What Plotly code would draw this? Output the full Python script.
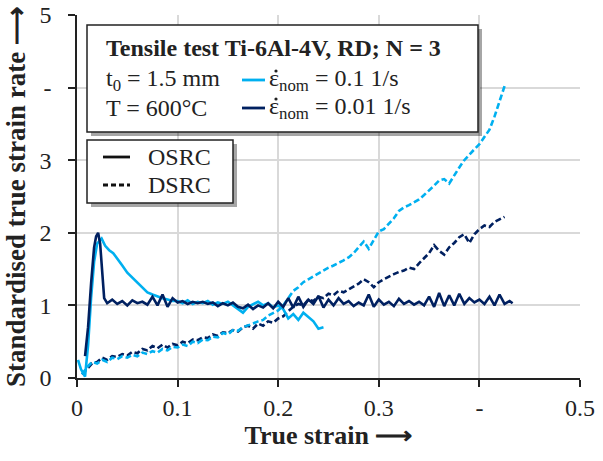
import plotly.graph_objects as go

LIGHT = "#00B0F0"
DARK = "#002060"
FONT = "Liberation Serif"
INK = "#222222"

# OSRC, 0.1 1/s (light blue, solid)
osrc_01_x = [0.001, 0.004, 0.008, 0.011, 0.014, 0.017, 0.020, 0.0245, 0.028, 0.032, 0.036, 0.040,
             0.045, 0.050, 0.055, 0.060, 0.065, 0.070, 0.075, 0.080, 0.085, 0.090, 0.095,
             0.100, 0.105, 0.110, 0.115, 0.120, 0.125, 0.130, 0.135, 0.140, 0.145, 0.150,
             0.155, 0.160, 0.165, 0.170, 0.175, 0.180, 0.185, 0.190, 0.195, 0.200, 0.205,
             0.210, 0.215, 0.220, 0.225, 0.230, 0.235, 0.240, 0.245]
osrc_01_y = [0.25, 0.12, 0.02, 0.45, 1.10, 1.60, 1.85, 1.92, 1.82, 1.76, 1.72, 1.65,
             1.55, 1.45, 1.38, 1.32, 1.25, 1.18, 1.15, 1.12, 1.10, 1.08, 1.06,
             1.06, 1.03, 1.07, 1.02, 1.05, 1.03, 1.06, 1.01, 1.04, 1.02, 1.05,
             1.00, 0.96, 0.90, 0.98, 1.02, 1.05, 1.00, 1.03, 0.97, 1.00, 0.95,
             0.82, 0.88, 0.80, 0.90, 0.84, 0.78, 0.68, 0.70]

# OSRC, 0.01 1/s (dark blue, solid)
osrc_001_x = [0.008, 0.011, 0.014, 0.017, 0.019, 0.021, 0.023, 0.025, 0.027,
              0.030, 0.035, 0.040, 0.045, 0.050, 0.055, 0.060, 0.065, 0.070, 0.075,
              0.080, 0.085, 0.090, 0.095, 0.100, 0.105, 0.110, 0.115, 0.120, 0.125,
              0.130, 0.135, 0.140, 0.145, 0.150, 0.155, 0.160, 0.165, 0.170, 0.175,
              0.180, 0.185, 0.190, 0.195, 0.200, 0.205, 0.210, 0.215, 0.220, 0.225,
              0.230, 0.235, 0.240, 0.245, 0.250, 0.255, 0.260, 0.265, 0.270, 0.275,
              0.280, 0.285, 0.290, 0.295, 0.300, 0.305, 0.310, 0.315, 0.320, 0.325,
              0.330, 0.335, 0.340, 0.345, 0.350, 0.355, 0.360, 0.365, 0.370, 0.375,
              0.380, 0.385, 0.390, 0.395, 0.400, 0.405, 0.410, 0.415, 0.420, 0.425,
              0.430, 0.433]
osrc_001_y = [0.30, 0.70, 1.30, 1.80, 1.95, 2.00, 1.85, 1.40, 1.10,
              1.03, 1.08, 1.02, 1.06, 1.00, 1.07, 1.03, 1.05, 1.01, 1.12,
              1.00, 1.15, 0.98, 1.10, 1.04, 1.06, 1.02, 1.05, 1.03, 1.05,
              1.02, 1.04, 0.99, 1.03, 1.00, 1.04, 0.98, 0.96, 1.01, 0.95,
              1.00, 0.97, 1.03, 0.96, 1.05, 0.98, 1.10, 0.97, 1.12, 0.98,
              1.08, 1.02, 1.13, 0.97, 1.08, 1.00, 1.10, 1.02, 1.06, 0.99,
              1.04, 1.00, 1.15, 0.98, 1.08, 1.01, 1.05, 0.99, 1.09, 1.02,
              1.06, 1.01, 1.05, 1.00, 1.12, 0.98, 1.17, 0.99, 1.14, 1.00,
              1.16, 1.02, 1.10, 1.04, 1.08, 1.02, 1.12, 1.00, 1.15, 1.02,
              1.06, 1.03]

# DSRC, 0.1 1/s (light blue, dashed)
dsrc_01_x = [0.005, 0.010, 0.015, 0.020, 0.025, 0.030, 0.035, 0.040, 0.045, 0.050,
             0.055, 0.060, 0.065, 0.070, 0.075, 0.080, 0.085, 0.090, 0.095, 0.100,
             0.105, 0.110, 0.115, 0.120, 0.125, 0.130, 0.135, 0.140, 0.145, 0.150,
             0.155, 0.160, 0.165, 0.170, 0.175, 0.180, 0.185, 0.190, 0.195, 0.200,
             0.205, 0.210, 0.215, 0.220, 0.225, 0.230, 0.235, 0.240, 0.245, 0.250,
             0.255, 0.260, 0.265, 0.270, 0.275, 0.280, 0.285, 0.290, 0.295, 0.300,
             0.305, 0.310, 0.315, 0.320, 0.325, 0.330, 0.335, 0.340, 0.345, 0.350,
             0.355, 0.360, 0.365, 0.370, 0.375, 0.380, 0.385, 0.390, 0.395, 0.400,
             0.405, 0.410, 0.415, 0.420, 0.425]
dsrc_01_y = [0.05, 0.15, 0.22, 0.20, 0.25, 0.22, 0.28, 0.26, 0.30, 0.28,
             0.32, 0.30, 0.35, 0.33, 0.37, 0.35, 0.40, 0.38, 0.43, 0.42,
             0.46, 0.44, 0.50, 0.48, 0.53, 0.52, 0.57, 0.56, 0.62, 0.60,
             0.66, 0.65, 0.70, 0.72, 0.75, 0.78, 0.80, 0.86, 0.90, 0.93,
             1.00, 1.10, 1.20, 1.25, 1.32, 1.36, 1.40, 1.45, 1.48, 1.52,
             1.55, 1.58, 1.62, 1.66, 1.72, 1.80, 1.88, 1.78, 1.90, 2.02,
             2.05, 2.12, 2.20, 2.30, 2.35, 2.38, 2.42, 2.46, 2.52, 2.58,
             2.65, 2.72, 2.74, 2.68, 2.80, 2.90, 3.00, 3.08, 3.15, 3.22,
             3.32, 3.42, 3.60, 3.80, 4.02]

# DSRC, 0.01 1/s (dark blue, dashed)
dsrc_001_x = dsrc_01_x
dsrc_001_y = [0.05, 0.12, 0.20, 0.22, 0.28, 0.25, 0.30, 0.29, 0.33, 0.31,
              0.36, 0.34, 0.40, 0.38, 0.44, 0.41, 0.46, 0.42, 0.47, 0.45,
              0.50, 0.48, 0.53, 0.52, 0.56, 0.55, 0.60, 0.58, 0.63, 0.62,
              0.66, 0.64, 0.70, 0.72, 0.68, 0.75, 0.72, 0.78, 0.76, 0.82,
              0.85, 0.92, 0.98, 1.02, 1.00, 1.08, 1.06, 1.12, 1.10, 1.16,
              1.14, 1.20, 1.18, 1.22, 1.26, 1.30, 1.36, 1.32, 1.25, 1.32,
              1.36, 1.40, 1.43, 1.46, 1.48, 1.52, 1.50, 1.58, 1.65, 1.72,
              1.83, 1.75, 1.70, 1.80, 1.86, 1.94, 1.98, 1.86, 1.98, 2.05,
              2.10, 2.08, 2.15, 2.18, 2.22]

x_tickvals = [0, 0.1, 0.2, 0.3, 0.4, 0.5]
x_ticktext = ["0", "0.1", "0.2", "0.3", "-", "0.5"]
y_tickvals = [0, 1, 2, 3, 4, 5]
y_ticktext = ["0", "1", "2", "3", "-", "5"]

fig = go.Figure()
W = 2.6
fig.add_trace(go.Scatter(x=dsrc_001_x, y=dsrc_001_y, mode="lines",
                         line=dict(color=DARK, width=W, dash="6px,3px")))
fig.add_trace(go.Scatter(x=dsrc_01_x, y=dsrc_01_y, mode="lines",
                         line=dict(color=LIGHT, width=W, dash="6px,3px")))
fig.add_trace(go.Scatter(x=osrc_01_x, y=osrc_01_y, mode="lines",
                         line=dict(color=LIGHT, width=W)))
fig.add_trace(go.Scatter(x=osrc_001_x, y=osrc_001_y, mode="lines",
                         line=dict(color=DARK, width=W)))

# pixel -> data helpers (plot area: x 77..580, y 15..378)
L, R, T, B = 77, 580, 15, 378
def dx(px):
    return (px - L) / (R - L) * 0.5
def dy(py):
    return (B - py) / (B - T) * 5.0

shapes = []
def box(x0, y0, x1, y1):
    shapes.append(dict(type="rect", xref="x", yref="y", x0=dx(x0 + 4), x1=dx(x1 + 4),
                       y0=dy(y1 + 4), y1=dy(y0 + 4), fillcolor="rgba(0,0,0,0.35)",
                       line=dict(width=0), layer="above"))
    shapes.append(dict(type="rect", xref="x", yref="y", x0=dx(x0), x1=dx(x1),
                       y0=dy(y1), y1=dy(y0), fillcolor="white",
                       line=dict(color=INK, width=1.5), layer="above"))

box(87, 25, 478, 132)
box(87, 140, 233, 203)

def seg(x0, x1, py, color, dash="solid"):
    shapes.append(dict(type="line", xref="x", yref="y", x0=dx(x0), x1=dx(x1),
                       y0=dy(py), y1=dy(py), line=dict(color=color, width=2.8, dash=dash),
                       layer="above"))

def dot(px, py, r=1.6):
    shapes.append(dict(type="circle", xref="x", yref="y", x0=dx(px - r), x1=dx(px + r),
                       y0=dy(py + r), y1=dy(py - r), fillcolor=INK,
                       line=dict(width=0), layer="above"))

seg(242, 265, 80, LIGHT)
seg(242, 265, 108, DARK)
seg(103, 130, 157, "#111111")
seg(103, 130, 185, "#111111", "5px,3px")
dot(276, 71)
dot(276, 99)

annots = []
def txt(px, py, s, size=24):
    annots.append(dict(x=dx(px), y=dy(py), xref="x", yref="y", text=s, showarrow=False,
                       xanchor="left", yanchor="middle",
                       font=dict(family=FONT, size=size, color=INK)))

txt(104, 48, "<b>Tensile test Ti-6Al-4V, RD; N = 3</b>", 24)
txt(104, 80, "t<sub>0</sub> = 1.5 mm", 24)
txt(104, 108, "T = 600°C", 24)
txt(267, 80, "ε<sub>nom</sub> = 0.1 1/s", 24)
txt(267, 108, "ε<sub>nom</sub> = 0.01 1/s", 24)
txt(146, 157, "OSRC", 24)
txt(146, 185, "DSRC", 24)

fig.update_layout(
    width=603, height=461,
    margin=dict(l=L, r=603 - R, t=T, b=461 - B),
    paper_bgcolor="white", plot_bgcolor="white",
    showlegend=False,
    shapes=shapes, annotations=annots,
    font=dict(family=FONT, size=24, color=INK),
    xaxis=dict(range=[0, 0.5], tickvals=x_tickvals, ticktext=x_ticktext,
               automargin=False,
               showgrid=True, gridcolor="#d9d9d9", gridwidth=1.5,
               showline=True, linecolor=INK, linewidth=1.5,
               ticks="outside", ticklen=7, tickcolor=INK, tickwidth=1.5,
               zeroline=False, tickfont=dict(family=FONT, size=24),
               title=dict(text="<b>True strain ⟶</b>", font=dict(family=FONT, size=26),
                          standoff=4)),
    yaxis=dict(range=[0, 5], tickvals=y_tickvals, ticktext=y_ticktext,
               automargin=False,
               showgrid=True, gridcolor="#d9d9d9", gridwidth=1.5,
               showline=True, linecolor=INK, linewidth=1.5,
               ticks="outside", ticklen=7, tickcolor=INK, tickwidth=1.5,
               ticklabelstandoff=12,
               zeroline=False, tickfont=dict(family=FONT, size=24),
               title=dict(text="<b>Standardised true strain rate ⟶</b>",
                          font=dict(family=FONT, size=27), standoff=6)),
)

fig.write_html("out.html", config={"displayModeBar": False},
               post_script="document.body.style.margin='0';document.body.style.padding='0';")
